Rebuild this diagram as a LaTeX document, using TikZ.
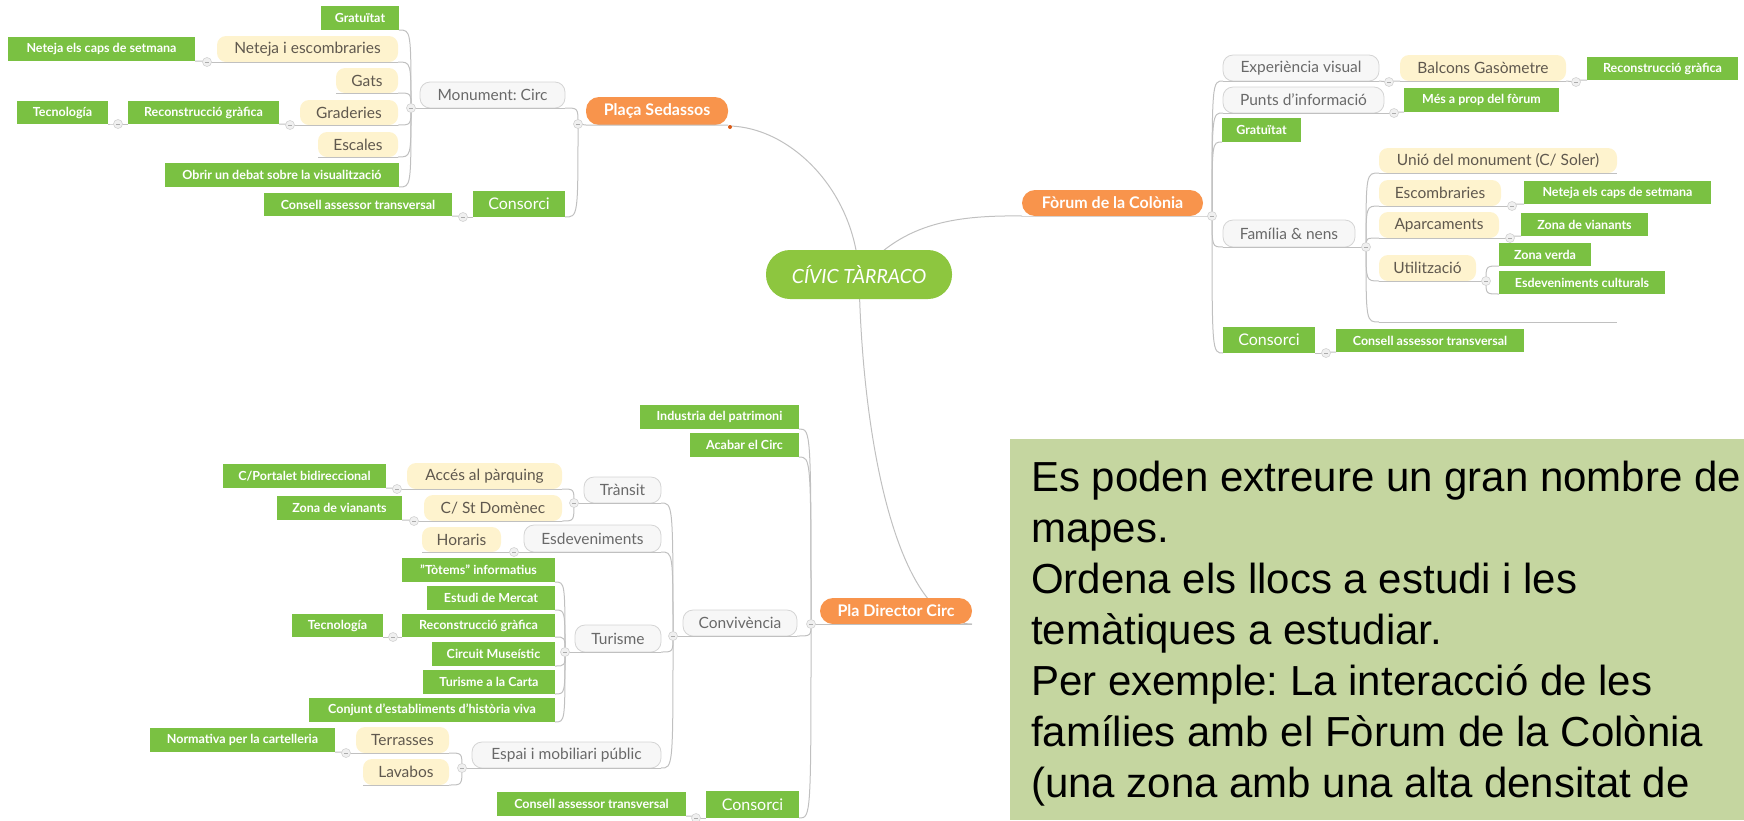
\documentclass[tikz,border=0pt]{standalone}
\usepackage{fontspec}
\setmainfont{Lato}
\newfontfamily\arialf{Liberation Sans}
\usetikzlibrary{calc}
\frenchspacing
\definecolor{mmgreen}{RGB}{122,193,66}
\definecolor{civgreen}{RGB}{141,198,63}
\definecolor{mmorange}{RGB}{248,148,76}
\definecolor{mmdotor}{RGB}{220,90,20}
\definecolor{mmyellow}{RGB}{254,243,206}
\definecolor{mmgrayfill}{RGB}{247,247,247}
\definecolor{mmgrayline}{RGB}{212,212,212}
\definecolor{mmline}{RGB}{192,192,192}
\definecolor{mmtext}{RGB}{105,105,105}
\definecolor{mmytext}{RGB}{95,88,78}
\definecolor{notefill}{RGB}{197,214,160}
\tikzset{
 mmbase/.style={inner sep=0pt, outer sep=0pt},
 gbox/.style={mmbase, fill=mmgreen, text=white, font=\fontsize{12.5}{14}\selectfont\bfseries},
 gbig/.style={mmbase, fill=mmgreen, text=white, font=\fontsize{16}{18}\selectfont},
 ypill/.style={mmbase, fill=mmyellow, rounded corners=9pt, text=mmytext, font=\fontsize{15.5}{18}\selectfont},
 gpill/.style={mmbase, fill=mmgrayfill, draw=mmgrayline, line width=0.8pt, rounded corners=10pt, text=mmtext, font=\fontsize{15.5}{18}\selectfont},
 opill/.style={mmbase, fill=mmorange, rounded corners=13pt, text=white, font=\fontsize{16}{18}\selectfont\bfseries},
 rootst/.style={mmbase, fill=civgreen, rounded corners=24pt, text=white, font=\fontsize{19.5}{22}\selectfont\itshape},
 conn/.style={draw=mmline, line width=1pt},
 mdot/.style={circle, inner sep=0pt, minimum size=9pt, fill=gray!12, draw=gray!35, line width=0.6pt,
   path picture={\draw[gray!65, line width=0.8pt] ([xshift=-2pt]path picture bounding box.center) -- ([xshift=2pt]path picture bounding box.center);}},
 notetext/.style={anchor=base west, inner sep=0pt, font=\arialf\fontsize{42}{51}\selectfont, text=black},
}
\newcommand{\mmbox}[7]{\node[#1, minimum width={(#5-#3)*1pt}, minimum height={(#6-#4)*1pt}] (#2) at ({(#3+#5)/2},{(#4+#6)/2}) {#7};}
\newcommand{\mmcn}[2]{\draw[conn] (#1) .. controls (#1 |- #2) .. (#2);}
\newcommand{\mmul}[1]{\draw[conn] (#1.south west) -- (#1.south east);}
\newcommand{\mmln}[2]{\draw[conn] (#1) -- (#2);}
\begin{document}
\begin{tikzpicture}[x=1pt,y=-1pt]
\useasboundingbox (0,0) rectangle (1744,820);
% note
\fill[notefill] (1010,439) rectangle (1744,820);
\node[notetext] (t1) at (1031,491) {Es poden extreure un gran nombre de};
\node[notetext] (t2) at (1031,542) {mapes.};
\node[notetext] (t3) at (1031,593) {Ordena els llocs a estudi i les};
\node[notetext] (t4) at (1031,644) {temàtiques a estudiar.};
\node[notetext] (t5) at (1031,695) {Per exemple: La interacció de les};
\node[notetext] (t6) at (1031,746) {famílies amb el Fòrum de la Colònia};
\node[notetext] (t7) at (1031,797) {(una zona amb una alta densitat de};
% coordinates for root curves
\coordinate (cc) at (859,275);
% root curves (behind nodes)
\draw[conn] (cc) .. controls (855,190) and (790,127) .. (729,126);
\draw[conn] (cc) .. controls (900,225) and (950,215) .. (1022,216);
\draw[conn] (cc) .. controls (862,450) and (900,624) .. (972,624);
% main nodes
\mmbox{rootst}{civ}{766}{250}{952}{299}{CÍVIC TÀRRACO}
\mmbox{opill}{pla}{586}{97}{728}{125}{Plaça Sedassos}
\mmbox{opill}{fo}{1022}{190}{1203}{216}{Fòrum de la Colònia}
\mmbox{opill}{pdc}{820}{598}{972}{624}{Pla Director Circ}
% top-left group
\mmbox{gpill}{mon}{420}{82}{565}{108}{Monument: Circ}
\mmbox{gbig}{cons1}{473}{191}{565}{217}{Consorci}
\mmbox{gbox}{cat1}{264}{193}{452}{216}{Consell assessor transversal}
\mmbox{gbox}{grat1}{321}{6}{399}{30}{Gratuïtat}
\mmbox{ypill}{net1}{217}{36}{398}{62}{Neteja i escombraries}
\mmbox{gbox}{caps1}{8}{37}{195}{61}{Neteja els caps de setmana}
\mmbox{ypill}{gats}{336}{68}{398}{93}{Gats}
\mmbox{ypill}{grad}{300}{100}{398}{125}{Graderies}
\mmbox{gbox}{rec1}{128}{101}{279}{124}{Reconstrucció gràfica}
\mmbox{gbox}{tec1}{17}{101}{108}{124}{Tecnología}
\mmbox{ypill}{esc}{318}{132}{398}{157}{Escales}
\mmbox{gbox}{obr}{165}{163}{399}{187}{Obrir un debat sobre la visualització}
% right group
\mmbox{gpill}{exp}{1223}{55}{1379}{81}{Experiència visual}
\mmbox{ypill}{bal}{1400}{55}{1566}{81}{Balcons Gasòmetre}
\mmbox{gbox}{rec2}{1587}{57}{1738}{80}{Reconstrucció gràfica}
\mmbox{gpill}{pun}{1223}{87}{1384}{113}{Punts d'informació}
\mmbox{gbox}{mes}{1404}{88}{1559}{112}{Més a prop del fòrum}
\mmbox{gbox}{grat2}{1222}{118}{1301}{142}{Gratuïtat}
\mmbox{gpill}{fam}{1223}{220}{1355}{247}{Família \& nens}
\mmbox{ypill}{uni}{1379}{148}{1617}{173}{Unió del monument (C/ Soler)}
\mmbox{ypill}{esco}{1379}{180}{1501}{206}{Escombraries}
\mmbox{gbox}{caps2}{1524}{181}{1711}{204}{Neteja els caps de setmana}
\mmbox{ypill}{apa}{1379}{212}{1499}{238}{Aparcaments}
\mmbox{gbox}{via2}{1521}{213}{1648}{236}{Zona de vianants}
\mmbox{ypill}{uti}{1379}{255}{1476}{281}{Utilització}
\mmbox{gbox}{ver}{1499}{243}{1591}{266}{Zona verda}
\mmbox{gbox}{cul}{1499}{271}{1665}{294}{Esdeveniments culturals}
\mmbox{gbig}{cons2}{1223}{327}{1315}{353}{Consorci}
\mmbox{gbox}{cat2}{1336}{329}{1524}{352}{Consell assessor transversal}
\coordinate (emL) at (1379,322);
\coordinate (emR) at (1617,322);
% bottom group
\mmbox{gbox}{ind}{640}{405}{799}{429}{Industria del patrimoni}
\mmbox{gbox}{aca}{690}{433}{799}{457}{Acabar el Circ}
\mmbox{gpill}{conv}{683}{610}{797}{636}{Convivència}
\mmbox{gbig}{cons3}{706}{791}{799}{818}{Consorci}
\mmbox{gbox}{cat3}{497}{792}{686}{816}{Consell assessor transversal}
\mmbox{gpill}{tra}{584}{477}{661}{503}{Trànsit}
\mmbox{gpill}{esd}{524}{525}{661}{552}{Esdeveniments}
\mmbox{gpill}{tur}{575}{625}{661}{652}{Turisme}
\mmbox{gpill}{esp}{472}{742}{661}{768}{Espai i mobiliari públic}
\mmbox{ypill}{acc}{407}{463}{562}{489}{Accés al pàrquing}
\mmbox{gbox}{por}{223}{464}{386}{488}{C/Portalet bidireccional}
\mmbox{ypill}{dom}{424}{495}{562}{521}{C/ St Domènec}
\mmbox{gbox}{via1}{277}{496}{402}{520}{Zona de vianants}
\mmbox{ypill}{hor}{422}{527}{501}{552}{Horaris}
\mmbox{gbox}{tot}{402}{558}{555}{582}{"Tòtems" informatius}
\mmbox{gbox}{mer}{427}{586}{555}{610}{Estudi de Mercat}
\mmbox{gbox}{rec3}{402}{614}{555}{637}{Reconstrucció gràfica}
\mmbox{gbox}{tec3}{292}{614}{383}{637}{Tecnología}
\mmbox{gbox}{mus}{432}{642}{555}{666}{Circuit Museístic}
\mmbox{gbox}{car}{423}{670}{555}{694}{Turisme a la Carta}
\mmbox{gbox}{conj}{309}{698}{555}{722}{Conjunt d'establiments d'història viva}
\mmbox{gbox}{nor}{150}{728}{335}{752}{Normativa per la cartelleria}
\mmbox{ypill}{ter}{356}{727}{449}{753}{Terrasses}
\mmbox{ypill}{lav}{363}{759}{449}{785}{Lavabos}
% dots
\coordinate (dP) at (578,124);
\coordinate (dM) at (411,108);
\coordinate (dC1) at (463,217);
\coordinate (dNE) at (207,62);
\coordinate (dG) at (290,125);
\coordinate (dT) at (118,124);
\coordinate (dF) at (1212,216);
\coordinate (dE) at (1389,82);
\coordinate (dB) at (1576,82);
\coordinate (dPi) at (1394,113);
\coordinate (dFa) at (1366,247);
\coordinate (dEs) at (1512,206);
\coordinate (dAp) at (1510,238);
\coordinate (dUt) at (1486,281);
\coordinate (dCo) at (1326,353);
\coordinate (dPd) at (811,624);
\coordinate (dCv) at (673,636);
\coordinate (dTr) at (574,503);
\coordinate (dEsd) at (514,552);
\coordinate (dTu) at (565,652);
\coordinate (dEsp) at (462,768);
\coordinate (dAc) at (397,489);
\coordinate (dSD) at (414,521);
\coordinate (dTec) at (393,637);
\coordinate (dTer) at (346,753);
\coordinate (dCb) at (696,818);
% --- connectors: top-left
\draw[conn] (pla.south east) -- (pla.south west) -- (dP);
\mmcn{dP}{mon.south east} \mmul{mon} \mmln{mon.south west}{dM}
\mmcn{dP}{cons1.south east} \mmln{cons1.south west}{dC1}
\mmcn{dC1}{cat1.south east}
\mmcn{dM}{grat1.south east}
\mmcn{dM}{net1.south east} \mmul{net1} \mmln{net1.south west}{dNE}
\mmcn{dNE}{caps1.south east}
\mmcn{dM}{gats.south east} \mmul{gats}
\mmcn{dM}{grad.south east} \mmul{grad} \mmln{grad.south west}{dG}
\mmcn{dG}{rec1.south east} \mmln{rec1.south west}{dT}
\mmcn{dT}{tec1.south east}
\mmcn{dM}{esc.south east} \mmul{esc}
\mmcn{dM}{obr.south east}
% --- right group
\draw[conn] (fo.south west) -- (fo.south east) -- (dF);
\mmcn{dF}{exp.south west} \mmul{exp} \mmln{exp.south east}{dE}
\mmcn{dE}{bal.south west} \mmul{bal} \mmln{bal.south east}{dB}
\mmcn{dB}{rec2.south west}
\mmcn{dF}{pun.south west} \mmul{pun} \mmln{pun.south east}{dPi}
\mmcn{dPi}{mes.south west}
\mmcn{dF}{grat2.south west}
\mmcn{dF}{fam.south west} \mmul{fam} \mmln{fam.south east}{dFa}
\mmcn{dFa}{uni.south west} \mmul{uni}
\mmcn{dFa}{esco.south west} \mmul{esco} \mmln{esco.south east}{dEs}
\mmcn{dEs}{caps2.south west}
\mmcn{dFa}{apa.south west} \mmul{apa} \mmln{apa.south east}{dAp}
\mmcn{dAp}{via2.south west}
\mmcn{dFa}{uti.south west} \mmul{uti} \mmln{uti.south east}{dUt}
\mmcn{dUt}{ver.south west}
\mmcn{dUt}{cul.south west}
\mmcn{dFa}{emL} \draw[conn] (emL) -- (emR);
\mmcn{dF}{cons2.south west} \mmln{cons2.south east}{dCo}
\mmcn{dCo}{cat2.south west}
% --- bottom group
\draw[conn] (pdc.south east) -- (pdc.south west) -- (dPd);
\mmcn{dPd}{ind.south east}
\mmcn{dPd}{aca.south east}
\mmcn{dPd}{conv.south east} \mmul{conv} \mmln{conv.south west}{dCv}
\mmcn{dPd}{cons3.south east} \mmln{cons3.south west}{dCb}
\mmcn{dCb}{cat3.south east}
\mmcn{dCv}{tra.south east} \mmul{tra} \mmln{tra.south west}{dTr}
\mmcn{dTr}{acc.south east} \mmul{acc} \mmln{acc.south west}{dAc}
\mmcn{dAc}{por.south east}
\mmcn{dTr}{dom.south east} \mmul{dom} \mmln{dom.south west}{dSD}
\mmcn{dSD}{via1.south east}
\mmcn{dCv}{esd.south east} \mmul{esd} \mmln{esd.south west}{dEsd}
\mmcn{dEsd}{hor.south east} \mmul{hor}
\mmcn{dCv}{tur.south east} \mmul{tur} \mmln{tur.south west}{dTu}
\mmcn{dTu}{tot.south east}
\mmcn{dTu}{mer.south east}
\mmcn{dTu}{rec3.south east} \mmln{rec3.south west}{dTec}
\mmcn{dTec}{tec3.south east}
\mmcn{dTu}{mus.south east}
\mmcn{dTu}{car.south east}
\mmcn{dTu}{conj.south east}
\mmcn{dCv}{esp.south east} \mmul{esp} \mmln{esp.south west}{dEsp}
\mmcn{dEsp}{ter.south east} \mmul{ter} \mmln{ter.south west}{dTer}
\mmcn{dTer}{nor.south east}
\mmcn{dEsp}{lav.south east} \mmul{lav}
% dot markers
\foreach \d in {dP,dM,dC1,dNE,dG,dT,dF,dE,dB,dPi,dFa,dEs,dAp,dUt,dCo,dPd,dCv,dTr,dEsd,dTu,dEsp,dAc,dSD,dTec,dTer,dCb}
  {\node[mdot] (m\d) at (\d) {};}
\node[circle, fill=mmdotor, inner sep=0pt, minimum size=4pt] (odot) at (730,127) {};
\end{tikzpicture}
\end{document}
